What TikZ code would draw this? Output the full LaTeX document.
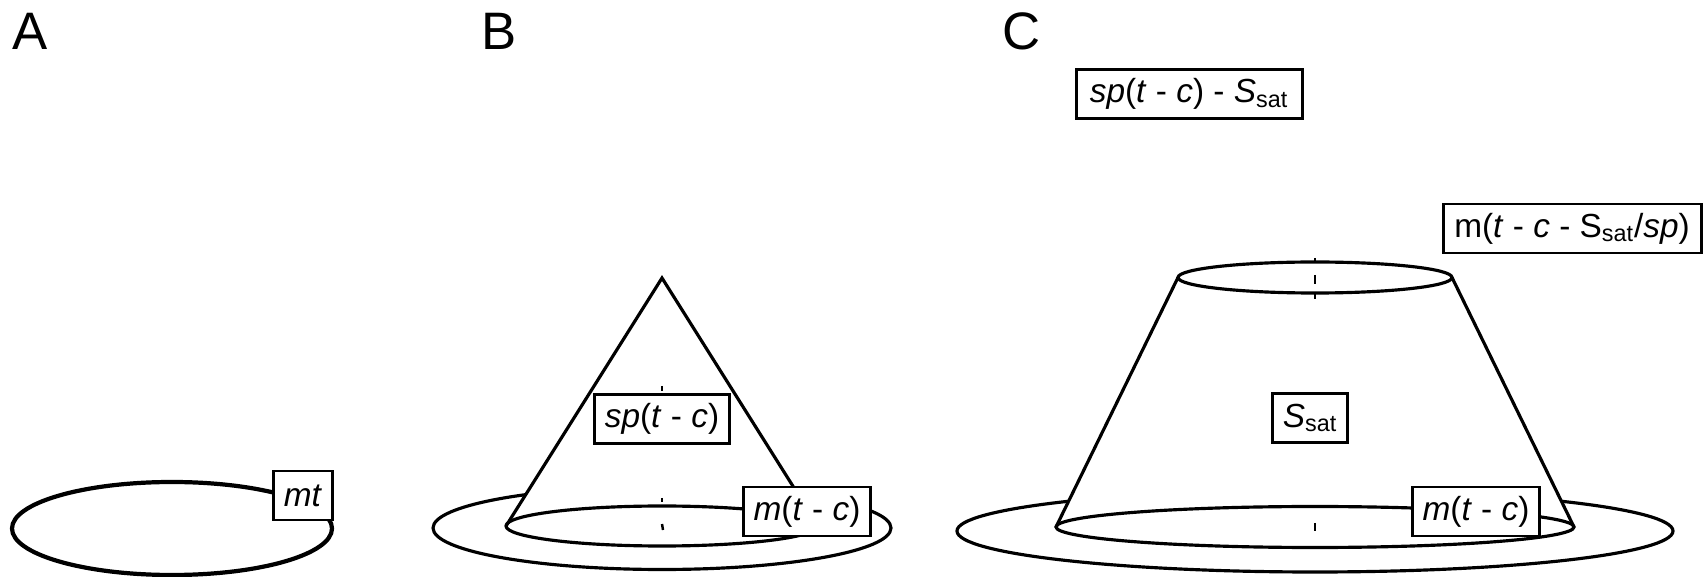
\documentclass[tikz,border=0pt]{standalone}
\usepackage{fontspec}
\setmainfont{Liberation Sans}
\usetikzlibrary{positioning}

\newcommand{\sat}{\textsubscript{sat}}

\begin{document}
\begin{tikzpicture}[x=0.2mm, y=-0.2mm,
  lbl/.style={draw, line width=1.7pt, fill=white, minimum height=9.8mm, inner xsep=2mm, inner ysep=0pt, font=\fontsize{19}{21}\selectfont},
  panel/.style={anchor=base west, inner sep=0pt, font=\fontsize{30}{32}\selectfont},
  rim/.style={line width=1.8pt},
  tick/.style={line width=1.4pt}
]
\useasboundingbox (0,0) rectangle (1706,577);

% panel letters
\node[panel] (labA) at (12,50) {A};
\node[panel] (labB) at (481,50) {B};
\node[panel] (labC) at (1002,50) {C};

% A: ring only
\draw[rim, line width=2.4pt] (172,528.5) ellipse [x radius=160, y radius=46.5];
\node[lbl] (mt) at (303,495.5) {\textit{mt}};

% B: cone on its ring
\coordinate (apexB) at (662,278);
\coordinate (baseBl) at (506,526);
\coordinate (baseBr) at (818,526);
\draw[rim] (662,528) ellipse [x radius=229, y radius=41.5];
\fill[white] (apexB) -- (baseBl) -- (baseBr) -- cycle;
\fill[white] (662,526) ellipse [x radius=156, y radius=20];
\draw[rim] (baseBl) -- (apexB) -- (baseBr);
\draw[rim] (662,526) ellipse [x radius=156, y radius=20];
\draw[tick] (662,386) -- (662,391);
\draw[tick] (662,498) -- (662,502);
\draw[tick] (662,524) -- (663,530);
\node[lbl] (spB) at (662,419) {\textit{sp}(\textit{t} - \textit{c})};
\node[lbl] (mB) at (807,511.5) {\textit{m}(\textit{t} - \textit{c})};

% C: truncated cone on its ring
\coordinate (topCl) at (1178,277.5);
\coordinate (topCr) at (1452,277.5);
\coordinate (baseCl) at (1056,527);
\coordinate (baseCr) at (1574,527);
\draw[rim] (1315,531) ellipse [x radius=358, y radius=41];
\fill[white] (topCl) -- (baseCl) -- (baseCr) -- (topCr) -- cycle;
\fill[white] (1315,527) ellipse [x radius=259, y radius=20.5];
\draw[rim] (baseCl) -- (topCl);
\draw[rim] (baseCr) -- (topCr);
\draw[rim] (1315,527) ellipse [x radius=259, y radius=20.5];
\draw[rim] (1315,277.5) ellipse [x radius=137, y radius=15.5];
\draw[tick] (1315,258) -- (1315,262);
\draw[tick] (1315,275) -- (1315,284);
\draw[tick] (1315,292) -- (1315,299);
\draw[tick] (1315,523) -- (1315,531);
\node[lbl] (satC) at (1310,418) {\textit{S}\sat};
\node[lbl] (mC) at (1476,511.5) {\textit{m}(\textit{t} - \textit{c})};
\node[lbl, minimum width=45.2mm] (spC) at (1189,94) {\textit{sp}(\textit{t} - \textit{c}) - \textit{S}\sat};
\node[lbl, minimum width=51.6mm] (mlate) at (1572,228.5) {m(\textit{t} - \textit{c} - S\sat/\textit{sp})};
\end{tikzpicture}
\end{document}
